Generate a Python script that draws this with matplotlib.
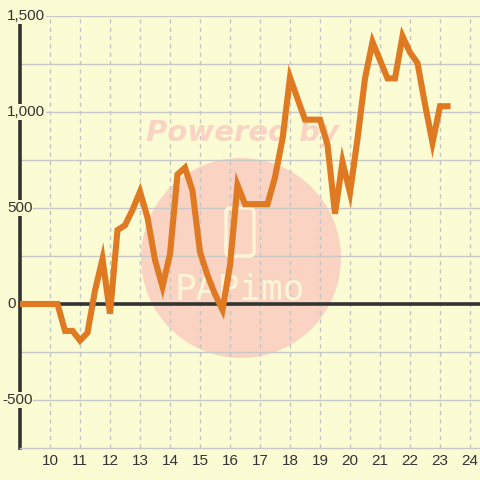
import matplotlib
matplotlib.use("Agg")
import matplotlib.pyplot as plt
import matplotlib.transforms as mtransforms
from matplotlib.patches import Circle, FancyBboxPatch
import numpy as np

# ---- data ----
x_values = [9.0, 9.25, 9.5, 9.75, 10.0, 10.25, 10.5, 10.75, 11.0, 11.25, 11.5, 11.75,
            12.0, 12.25, 12.5, 12.75, 13.0, 13.25, 13.5, 13.75, 14.0, 14.25, 14.5, 14.75,
            15.0, 15.25, 15.5, 15.75, 16.0, 16.25, 16.5, 16.75, 17.0, 17.25, 17.5, 17.75,
            18.0, 18.25, 18.5, 18.75, 19.0, 19.25, 19.5, 19.75, 20.0, 20.25, 20.5, 20.75,
            21.0, 21.25, 21.5, 21.75, 22.0, 22.25, 22.5, 22.75, 23.0, 23.25]
y_values = [0, 0, 0, 0, 0, 0, -140, -140, -190, -150, 70, 235,
            -50, 385, 410, 490, 585, 450, 230, 90, 260, 675, 710, 590,
            270, 150, 50, -30, 200, 620, 520, 520, 520, 520, 660, 860,
            1180, 1070, 960, 960, 960, 830, 470, 740, 580, 860, 1175, 1365,
            1270, 1175, 1175, 1395, 1310, 1255, 1040, 840, 1030, 1030]
x_ticks = list(range(10, 25))
y_ticks = [-500, 0, 500, 1000, 1500]
y_tick_labels = ["-500", "0", "500", "1,000", "1,500"]
y_grid = [-500, -250, 0, 250, 500, 750, 1000, 1250, 1500]

BG = "#fcfcd4"
W, H = 480, 480
plt.rcParams['font.family'] = ['Liberation Sans', 'DejaVu Sans']

fig = plt.figure(figsize=(4.8, 4.8), dpi=100, facecolor=BG)
ax = fig.add_axes([20 / W, (H - 448) / H, (W - 20) / W, (448 - 16) / H])
ax.set_facecolor(BG)
ax.set_xlim(9, 9 + 460 / 30)
ax.set_ylim(-750, 1500)

# grid
for yv in y_grid:
    ax.axhline(yv, color="#c8c8c8", lw=1.0, zorder=1)
for xv in x_ticks:
    ax.axvline(xv, color="#c4c4c4", lw=1.0, ls=(0, (3, 3)), zorder=1)

# watermark
def fx(px):
    return px / W
def fy(py):
    return 1 - py / H
circ = Circle((fx(241), fy(258)), 100 / W, transform=fig.transFigure,
              facecolor="#fad3c3", edgecolor="none", zorder=0.5)
ax.add_artist(circ)
ax.text(fx(242), fy(133), "Powered by", transform=fig.transFigure, ha="center", va="center",
        fontsize=21, fontweight="bold", fontstyle="italic", family="DejaVu Sans",
        color="#f9d3c3", zorder=1.5)
rect = FancyBboxPatch((fx(226), fy(256)), 28 / W, 48 / H, boxstyle="round,pad=0,rounding_size=0.01",
                      transform=fig.transFigure, facecolor="none", edgecolor="#fcf6d6",
                      lw=2.5, zorder=1.5)
ax.add_artist(rect)
ax.text(fx(240), fy(290), "PAPimo", transform=fig.transFigure, ha="center", va="center",
        fontsize=26, family="DejaVu Sans Mono", color="#fcf6d6", zorder=1.5)

# axes lines
ax.axhline(0, color="#333333", lw=2.6, zorder=2)
for s in ["top", "right"]:
    ax.spines[s].set_visible(False)
ax.spines["bottom"].set_color("#c8c8c8")
ax.spines["bottom"].set_linewidth(1.0)
ax.spines["left"].set_color("#333333")
ax.spines["left"].set_linewidth(2.6)
ax.spines["left"].set_zorder(2)

ax.plot(x_values, y_values, color="#e07a22", lw=4.4, solid_joinstyle="miter", zorder=3)

ax.set_xticks([])
ax.set_yticks([])

# tick labels
tr_y = mtransforms.blended_transform_factory(fig.transFigure, ax.transData)
for yv, lab in zip(y_ticks, y_tick_labels):
    xpx = 2 if lab.startswith("-") else 7
    ax.text(fx(xpx), yv, lab, transform=tr_y, ha="left", va="center", fontsize=11,
            color="#333333", zorder=4, clip_on=False,
            bbox=dict(facecolor=BG, edgecolor="none", pad=0.5))
tr_x = mtransforms.blended_transform_factory(ax.transData, fig.transFigure)
for xv in x_ticks:
    ax.text(xv, fy(461), str(xv), transform=tr_x, ha="center", va="center", fontsize=11,
            color="#333333", clip_on=False)

fig.savefig("out.png", dpi=100, facecolor=BG)
